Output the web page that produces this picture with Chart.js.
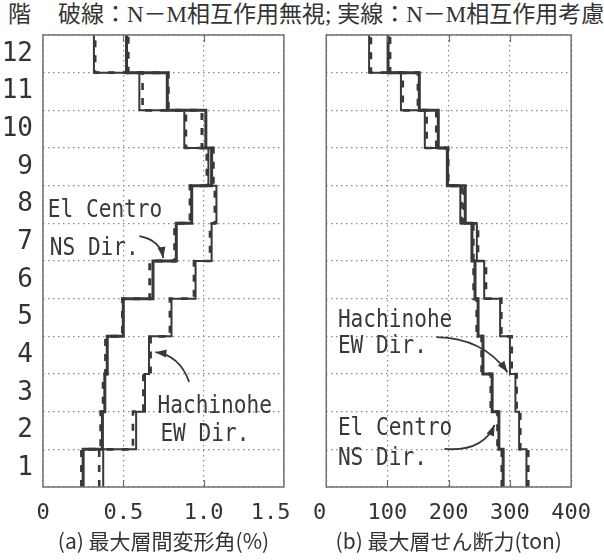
<!DOCTYPE html>
<html>
<head>
<meta charset="utf-8">
<script src="https://cdn.jsdelivr.net/npm/chart.js@4"></script>
<style>
  html, body { margin: 0; padding: 0; background: #fff; }
  #wrap { position: relative; width: 604px; height: 560px; overflow: hidden; background: #fff; }
  #cA { position: absolute; left: 0; top: 0; }
  #cB { position: absolute; left: 300px; top: 0; }
  .hd { position: absolute; top: 3px; font-family: 'Liberation Serif', 'Noto Sans CJK JP', serif;
        font-size: 23px; line-height: 1; color: #333; white-space: nowrap; }
</style>
</head>
<body>
<div id="wrap">
  <div class="hd" style="left:8px">階</div>
  <div class="hd" id="hdMain" style="left:58px">破線：N－M相互作用無視; 実線：N－M相互作用考慮</div>
  <canvas id="cA" width="330" height="560"></canvas>
  <canvas id="cB" width="304" height="560"></canvas>
</div>
<script>
// Story labels (1st floor at the bottom)
const stories = ['1', '2', '3', '4', '5', '6', '7', '8', '9', '10', '11', '12'];
const driftTicks = ['0', '0.5', '1.0', '1.5'];
const shearTicks = ['0', '100', '200', '300', '400'];

// (a) maximum inter-story drift angle (%), stories 1..12
const driftElCentroNM   = [0.25, 0.37, 0.385, 0.40, 0.50, 0.685, 0.83, 0.926, 1.05, 1.014, 0.774, 0.52];
const driftElCentroFree = [0.24, 0.36, 0.375, 0.39, 0.495, 0.665, 0.82, 0.916, 1.06, 0.99, 0.78, 0.53];
const driftHachiNM      = [0.375, 0.58, 0.635, 0.66, 0.80, 0.95, 1.05, 1.08, 1.03, 0.88, 0.60, 0.317];
const driftHachiFree    = [0.35, 0.56, 0.625, 0.67, 0.79, 0.94, 1.04, 1.07, 1.02, 0.89, 0.62, 0.325];

// (b) maximum story shear (ton), stories 1..12
const shearElCentroNM   = [289, 282, 271, 256, 248, 243, 238, 227, 198, 183, 152, 101];
const shearElCentroFree = [287, 280, 269, 254, 246, 241, 240, 225, 199, 180, 150, 104];
const shearHachiNM      = [327, 315, 309, 300, 284, 258, 246, 219, 197, 161, 122, 70];
const shearHachiFree    = [330, 317, 311, 303, 286, 261, 248, 221, 198, 164, 125, 73];

const INK = '#383838';
const FRAME = '#707070';
const GRID = '#8a8a8a';
const MONO = "'DejaVu Sans Mono', monospace";

// one story = one vertical segment; consecutive stories joined by a horizontal step
function stepPoints(vals) {
  const pts = vals.map((v, i) => ({ x: v, y: i }));
  pts.push({ x: vals[vals.length - 1], y: vals.length });
  return pts;
}

function series(vals, width, dashed) {
  return {
    data: stepPoints(vals),
    showLine: true,
    stepped: 'after',
    borderColor: INK,
    borderWidth: width,
    borderDash: dashed ? [7, 8] : [],
    borderCapStyle: 'butt',
    pointRadius: 0,
    fill: false
  };
}

// frame around the plot plus short inward ticks at the inner x divisions
const framePlugin = {
  id: 'frame',
  afterDatasetsDraw(chart) {
    const { ctx, chartArea: a, scales: { x } } = chart;
    ctx.save();
    ctx.strokeStyle = FRAME;
    ctx.lineWidth = 1.5;
    ctx.setLineDash([]);
    ctx.strokeRect(a.left, a.top, a.right - a.left, a.bottom - a.top);
    ctx.lineWidth = 1.2;
    x.ticks.forEach(t => {
      if (t.value > x.min && t.value < x.max) {
        const px = Math.round(x.getPixelForValue(t.value)) + 0.5;
        ctx.beginPath();
        ctx.moveTo(px, a.top); ctx.lineTo(px, a.top + 7);
        ctx.moveTo(px, a.bottom); ctx.lineTo(px, a.bottom - 7);
        ctx.stroke();
      }
    });
    ctx.restore();
  }
};

// text callouts with curved arrows, placed in data coordinates
function notesPlugin(texts, arrows) {
  return {
    id: 'notes',
    afterDraw(chart) {
      const { ctx, scales: { x, y } } = chart;
      const P = (p) => [x.getPixelForValue(p[0]), y.getPixelForValue(p[1])];
      ctx.save();
      ctx.fillStyle = INK;
      ctx.font = "24px " + MONO;
      ctx.textAlign = 'left';
      ctx.textBaseline = 'alphabetic';
      texts.forEach(t => {
        const [px, py] = P(t.at);
        ctx.save();
        ctx.translate(px, py);
        ctx.scale(0.88, 1);
        ctx.fillText(t.text, 0, 0);
        ctx.restore();
      });
      ctx.strokeStyle = INK;
      ctx.lineWidth = 1.8;
      arrows.forEach(ar => {
        const s = P(ar.from), c = P(ar.via), e = P(ar.to);
        ctx.beginPath();
        ctx.moveTo(s[0], s[1]);
        ctx.quadraticCurveTo(c[0], c[1], e[0], e[1]);
        ctx.stroke();
        const ang = Math.atan2(e[1] - c[1], e[0] - c[0]);
        const L = 11, W = 4;
        ctx.beginPath();
        ctx.moveTo(e[0], e[1]);
        ctx.lineTo(e[0] - L * Math.cos(ang) + W * Math.sin(ang), e[1] - L * Math.sin(ang) - W * Math.cos(ang));
        ctx.lineTo(e[0] - L * Math.cos(ang) - W * Math.sin(ang), e[1] - L * Math.sin(ang) + W * Math.cos(ang));
        ctx.closePath();
        ctx.fill();
      });
      ctx.restore();
    }
  };
}

function makeChart(canvasId, cfg) {
  const yAxis = {
    type: 'linear',
    min: 0, max: 12,
    afterBuildTicks: (s) => {
      const t = [];
      for (let v = 0; v <= 12; v += 0.5) t.push({ value: v });
      s.ticks = t;
    },
    afterFit: (s) => { s.width = cfg.yWidth; },
    grid: {
      drawTicks: false,
      lineWidth: 1.2,
      color: (c) => (c.tick && Number.isInteger(c.tick.value)) ? GRID : 'rgba(0,0,0,0)'
    },
    border: { display: false, dash: [1.5, 3.5] },
    ticks: {
      display: cfg.showStories,
      autoSkip: false,
      padding: 10,
      color: '#333',
      font: { family: "'Liberation Sans Narrow', 'DejaVu Sans Mono', sans-serif", size: 26 },
      callback: (v) => (Math.abs(v % 1 - 0.5) < 1e-6) ? stories[Math.floor(v)] : ''
    }
  };
  const xAxis = {
    type: 'linear',
    min: cfg.xMin, max: cfg.xMax,
    ticks: {
      stepSize: cfg.xStep,
      autoSkip: false,
      maxRotation: 0,
      padding: 13,
      color: '#333',
      font: { family: MONO, size: 22 },
      callback: (v, i) => cfg.tickText(i)
    },
    afterFit: (s) => { s.height = 73; },
    grid: { drawTicks: false, lineWidth: 1.2, color: GRID },
    border: { display: false, dash: [1.5, 3.5] },
    title: {
      display: true,
      text: cfg.title,
      color: '#333',
      font: { family: "'Noto Sans CJK JP', sans-serif", size: 21 },
      padding: { top: 0, bottom: 6 }
    }
  };
  return new Chart(document.getElementById(canvasId), {
    type: 'scatter',
    data: { datasets: cfg.datasets },
    options: {
      responsive: false,
      animation: false,
      layout: { padding: { top: 35, right: cfg.padRight, bottom: 0, left: 0 } },
      plugins: { legend: { display: false }, tooltip: { enabled: false } },
      scales: { x: xAxis, y: yAxis }
    },
    plugins: [framePlugin, notesPlugin(cfg.texts, cfg.arrows)]
  });
}

// (a) drift angle panel
makeChart('cA', {
  yWidth: 43, padRight: 37, showStories: true,
  xMin: 0, xMax: 1.5, xStep: 0.5,
  tickText: (i) => (i === driftTicks.length - 1) ? driftTicks[i] + '  ' : driftTicks[i],
  title: '(a) 最大層間変形角(%)',
  datasets: [
    series(driftElCentroFree, 3, true),
    series(driftHachiFree, 2.6, true),
    series(driftElCentroNM, 3, false),
    series(driftHachiNM, 2, false)
  ],
  texts: [
    { text: 'El Centro', at: [0.03, 7.17] },
    { text: 'NS Dir.', at: [0.042, 6.16] },
    { text: 'Hachinohe', at: [0.713, 1.96] },
    { text: 'EW Dir.', at: [0.731, 1.22] }
  ],
  arrows: [
    { from: [0.60, 6.66], via: [0.73, 6.56], to: [0.749, 6.08] },
    { from: [0.91, 2.79], via: [0.85, 3.50], to: [0.70, 3.58] }
  ]
});

// (b) story shear panel
makeChart('cB', {
  yWidth: 24, padRight: 29, showStories: false,
  xMin: 0, xMax: 400, xStep: 100,
  tickText: (i) => (i === 0) ? shearTicks[i] + ' ' : shearTicks[i],
  title: '(b) 最大層せん断力(ton)',
  datasets: [
    series(shearElCentroFree, 3, true),
    series(shearHachiFree, 2.6, true),
    series(shearElCentroNM, 3, false),
    series(shearHachiNM, 2, false)
  ],
  texts: [
    { text: 'Hachinohe', at: [19, 4.25] },
    { text: 'EW Dir.', at: [19, 3.56] },
    { text: 'El Centro', at: [19, 1.38] },
    { text: 'NS Dir.', at: [19, 0.58] }
  ],
  arrows: [
    { from: [180, 3.98], via: [256, 3.96], to: [296, 3.05] },
    { from: [193, 1.01], via: [256, 0.93], to: [275, 1.65] }
  ]
});
</script>
</body>
</html>
